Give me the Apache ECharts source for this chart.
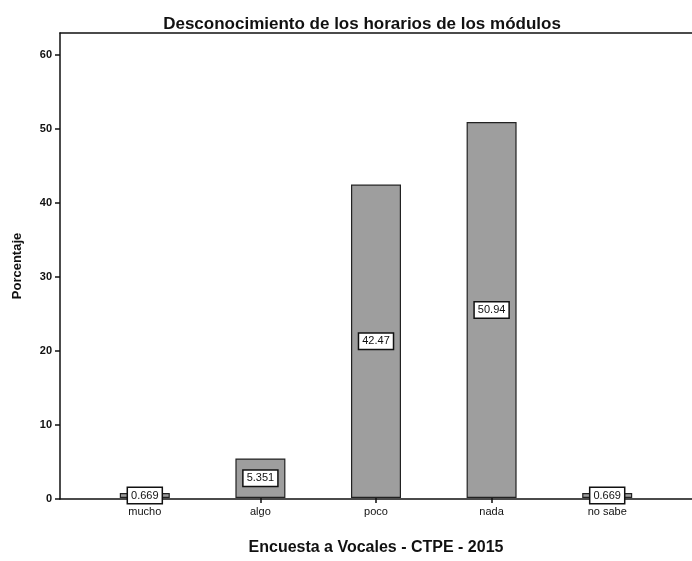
<!DOCTYPE html>
<html>
<head>
<meta charset="utf-8">
<script src="https://cdn.jsdelivr.net/npm/echarts@6/dist/echarts.min.js"></script>
<style>
  html, body { margin: 0; padding: 0; background: #fff; }
  #chart { width: 692px; height: 561px; }
</style>
</head>
<body>
<div id="chart"></div>
<script>
// Desconocimiento de los horarios de los módulos
const categorias = ['mucho', 'algo', 'poco', 'nada', 'no sabe'];
const porcentajes = [0.669, 5.351, 42.47, 50.94, 0.669];
const etiquetas = ['0.669', '5.351', '42.47', '50.94', '0.669'];

const chart = echarts.init(document.getElementById('chart'));

const font = 'Liberation Sans, Arial, sans-serif';
const linea = { color: '#111', width: 1.5 };

const option = {
  animation: false,
  backgroundColor: '#fff',
  title: {
    text: 'Desconocimiento de los horarios de los módulos',
    left: 357,
    top: 11,
    textAlign: 'center',
    textStyle: { fontFamily: font, fontSize: 17, fontWeight: 'bold', color: '#111' }
  },
  grid: [
    // marco: ejes izquierdo, superior e inferior
    { left: 60, right: 0, top: 33, bottom: 62 },
    // zona de las barras
    { left: 87, right: 27, top: 33, bottom: 62 }
  ],
  xAxis: [
    {
      gridIndex: 0, type: 'value', position: 'bottom', min: 0, max: 1,
      axisLine: { show: true, lineStyle: linea },
      axisTick: { show: false }, axisLabel: { show: false }, splitLine: { show: false }
    },
    {
      gridIndex: 0, type: 'value', position: 'top', min: 0, max: 1,
      axisLine: { show: true, lineStyle: linea },
      axisTick: { show: false }, axisLabel: { show: false }, splitLine: { show: false }
    },
    {
      gridIndex: 1,
      type: 'category',
      data: categorias,
      name: 'Encuesta a Vocales - CTPE - 2015',
      nameLocation: 'middle',
      nameGap: 42,
      nameTextStyle: { fontFamily: font, fontSize: 16, fontWeight: 'bold', color: '#111' },
      axisLine: { show: false },
      axisTick: { show: true, alignWithLabel: true, length: 5, lineStyle: linea },
      axisLabel: { fontFamily: font, fontSize: 11, color: '#111', margin: 8 }
    }
  ],
  yAxis: [
    {
      gridIndex: 0,
      type: 'value',
      min: 0,
      max: 63,
      interval: 10,
      name: 'Porcentaje',
      nameLocation: 'middle',
      nameGap: 36,
      nameTextStyle: { fontFamily: font, fontSize: 13, fontWeight: 'bold', color: '#111' },
      axisLine: { show: true, lineStyle: linea },
      axisTick: { show: true, length: 5, lineStyle: linea },
      axisLabel: {
        fontFamily: font, fontSize: 11, fontWeight: 'bold', color: '#111', margin: 8,
        showMaxLabel: false,
        formatter: v => (v % 10 === 0 ? String(v) : '')
      },
      splitLine: { show: false }
    },
    { gridIndex: 1, type: 'value', min: 0, max: 63, show: false, splitLine: { show: false } }
  ],
  series: [
    {
      type: 'bar',
      xAxisIndex: 2,
      yAxisIndex: 1,
      data: porcentajes,
      barWidth: 50,
      itemStyle: { color: '#9e9e9e', borderColor: '#222', borderWidth: 1.2 },
      label: {
        show: true,
        position: 'inside',
        formatter: p => etiquetas[p.dataIndex],
        fontFamily: font,
        fontSize: 11,
        color: '#111',
        backgroundColor: '#fff',
        borderColor: '#111',
        borderWidth: 1.5,
        padding: [2, 3]
      }
    }
  ]
};

chart.setOption(option);
</script>
</body>
</html>
